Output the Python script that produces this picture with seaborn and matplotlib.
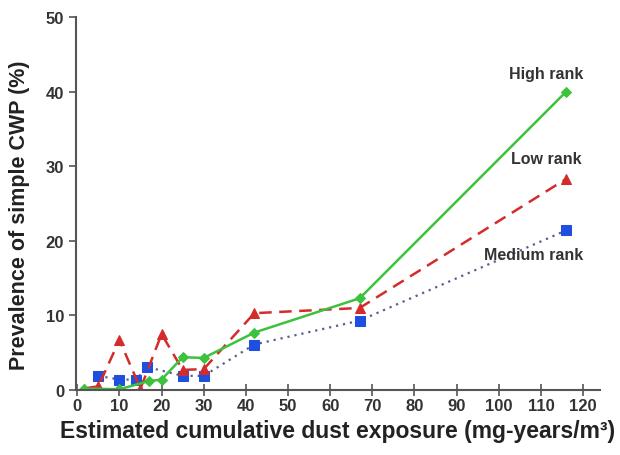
import numpy as np
import pandas as pd
import matplotlib.pyplot as plt
import seaborn as sns

# values
high_x = [1.5, 10, 17, 20, 25, 30, 42, 67, 116]
high_y = [0.2, 0.1, 1.2, 1.4, 4.4, 4.3, 7.7, 12.3, 40.0]
low_x = [1.5, 5, 10, 15, 20, 25, 30, 42, 67, 116]
low_y = [0.2, 0.5, 6.7, 0.2, 7.5, 2.7, 2.8, 10.3, 11.0, 28.3]
med_x = [5, 10, 14, 16.5, 25, 30, 42, 67, 116]
med_y = [1.9, 1.4, 1.4, 3.1, 1.9, 1.9, 6.1, 9.3, 21.4]
xticks = list(range(0, 121, 10))
yticks = list(range(0, 51, 10))

sns.set_style('ticks')
plt.rcParams['font.family'] = ['Liberation Sans', 'DejaVu Sans']

fig = plt.figure(figsize=(6.2, 4.56), dpi=100)
ax = fig.add_axes([0.1226, 0.1425, 0.845, 0.818])

sns.lineplot(x=med_x, y=med_y, ax=ax, color='#55608f', linestyle=(0, (1, 2.2)), lw=1.6,
             marker='s', markersize=6.5, markerfacecolor='#1f4fe0', markeredgecolor='#1f4fe0')
sns.lineplot(x=low_x, y=low_y, ax=ax, color='#d42b2b', linestyle=(0, (5, 3)), lw=1.8,
             marker='^', markersize=6.5, markerfacecolor='#d42b2b', markeredgecolor='#d42b2b')
sns.lineplot(x=high_x, y=high_y, ax=ax, color='#3cc23c', lw=1.8,
             marker='D', markersize=5.5, markerfacecolor='#3cc23c', markeredgecolor='#3cc23c')

ax.text(111.3, 42.4, 'High rank', ha='center', va='center', fontsize=11.5, fontweight='bold', color='#333333')
ax.text(111.3, 31, 'Low rank', ha='center', va='center', fontsize=11.5, fontweight='bold', color='#333333')
ax.text(108.3, 18.2, 'Medium rank', ha='center', va='center', fontsize=11.5, fontweight='bold', color='#333333')

ax.set_xlim(-0.3, 124)
ax.set_ylim(0, 50)
ax.set_xticks(xticks)
ax.set_yticks(yticks)
for lab in ax.get_xticklabels() + ax.get_yticklabels():
    lab.set_fontweight('bold')
    lab.set_fontsize(12)
    lab.set_color('#333333')
ax.tick_params(axis='x', direction='inout', length=8, width=1.2, color='#555555', pad=2)
ax.tick_params(axis='y', direction='out', length=5, width=1.2, color='#555555')
sns.despine(ax=ax)
for s in ['left', 'bottom']:
    ax.spines[s].set_color('#555555')
    ax.spines[s].set_linewidth(1.5)
ax.spines['left'].set_bounds(0, 50)

ax.set_xlabel('Estimated cumulative dust exposure (mg-years/m\u00b3)', fontsize=16.5,
              fontweight='bold', color='#222222', labelpad=4)
ax.set_ylabel('Prevalence of simple CWP (%)', fontsize=15.5, fontweight='bold',
              color='#222222', labelpad=4)
ax.yaxis.set_label_coords(-0.088, 0.47)

fig.savefig('out.png', dpi=100)
